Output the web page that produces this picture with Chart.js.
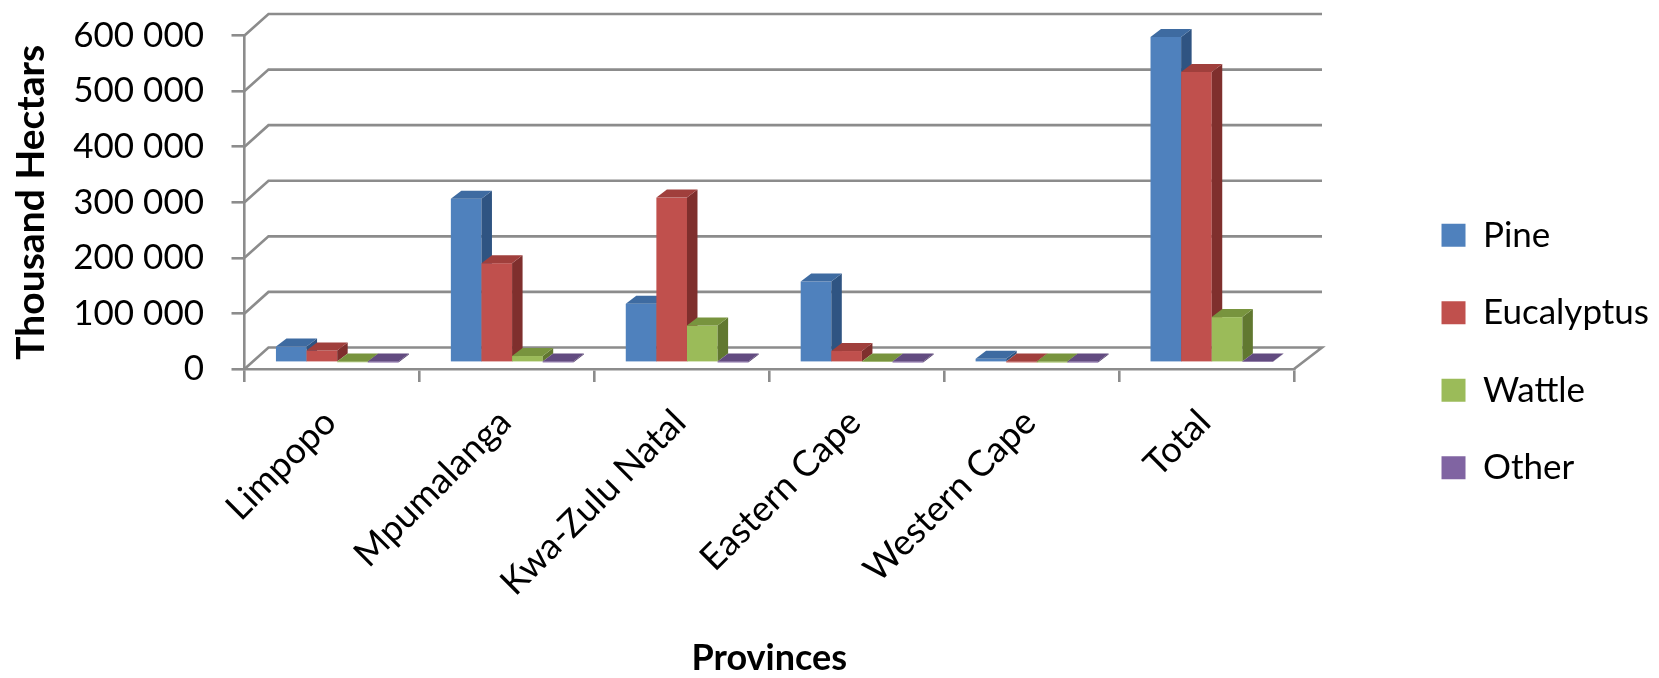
<!DOCTYPE html>
<html><head><meta charset="utf-8">
<script src="https://cdn.jsdelivr.net/npm/chart.js@4.4.1/dist/chart.umd.min.js"></script>
<style>html,body{margin:0;padding:0;background:#fff;overflow:hidden}#wrap{width:1659px;height:678px;position:relative}</style>
</head><body><div id="wrap"><canvas id="c"></canvas></div>
<script>
// ---- data ----
const categories = ['Limpopo', 'Mpumalanga', 'Kwa-Zulu Natal', 'Eastern Cape', 'Western Cape', 'Total'];
const seriesNames = ['Pine', 'Eucalyptus', 'Wattle', 'Other'];
const pine       = [29000, 295000, 106000, 146000, 7000, 586000];
const eucalyptus = [22000, 179000, 297000, 21000, 500, 523000];
const wattle     = [800, 12000, 67000, 1500, 300, 82000];
const other      = [300, 500, 400, 300, 200, 1500];
const yTickValues = [0, 100000, 200000, 300000, 400000, 500000, 600000];

// ---- styles ----
const frontColors = ['#4F81BD', '#C0504D', '#9BBB59', '#8064A2'];
const topColors   = ['#3E6BA1', '#A03F3C', '#78943E', '#624B80'];
const sideColors  = ['#2F5482', '#7F2F2D', '#617830', '#4E3A67'];
const GRID = '#8c8c8c', GW = 2.6;
const DEPTH = {dxL: 24, dxR: 28, dy: -21.5};
const BAR_OFF = {x: 5.2, y: -6.3};
const BAR_D = {x: 10.5, y: -8};
const PLOT_RIGHT = 1294;

function fmt(v) { return String(v).replace(/\B(?=(\d{3})+(?!\d))/g, ' '); }
function backPt(ca, x, y) {
  const t = (x - ca.left) / (ca.right - ca.left);
  return [x + DEPTH.dxL + t * (DEPTH.dxR - DEPTH.dxL), y + DEPTH.dy];
}

const bars3d = {
  id: 'bars3d',
  beforeDatasetsDraw(chart) {
    const {ctx, chartArea: ca, scales: {y}} = chart;
    ctx.save();
    ctx.strokeStyle = GRID; ctx.lineWidth = GW; ctx.lineJoin = 'miter';
    yTickValues.forEach(v => {
      const py = y.getPixelForValue(v);
      const [bx1, by1] = backPt(ca, ca.left, py);
      const [bx2, by2] = backPt(ca, ca.right, py);
      ctx.beginPath();
      ctx.moveTo(ca.left, py); ctx.lineTo(bx1, by1); ctx.lineTo(bx2, by2);
      if (v === 0) ctx.lineTo(ca.right, py);
      ctx.stroke();
    });
    ctx.restore();
  },
  beforeDatasetDraw() { return false; },
  afterDatasetsDraw(chart) {
    const ctx = chart.ctx;
    const metas = chart.data.datasets.map((d, i) => chart.getDatasetMeta(i));
    ctx.save();
    for (let c = 0; c < categories.length; c++) {
      metas.forEach((meta, s) => {
        const el = meta.data[c];
        const p = el.getProps(['x', 'y', 'base', 'width'], true);
        const l = p.x - p.width / 2 + BAR_OFF.x, r = l + p.width;
        const t = Math.min(p.y, p.base) + BAR_OFF.y, b = Math.max(p.y, p.base) + BAR_OFF.y;
        ctx.fillStyle = frontColors[s];
        ctx.fillRect(l, t, r - l, b - t);
        ctx.fillStyle = sideColors[s];
        ctx.beginPath();
        ctx.moveTo(r, t); ctx.lineTo(r + BAR_D.x, t + BAR_D.y);
        ctx.lineTo(r + BAR_D.x, b + BAR_D.y); ctx.lineTo(r, b); ctx.closePath(); ctx.fill();
        ctx.fillStyle = topColors[s];
        ctx.beginPath();
        ctx.moveTo(l, t); ctx.lineTo(r, t); ctx.lineTo(r + BAR_D.x, t + BAR_D.y);
        ctx.lineTo(l + BAR_D.x, t + BAR_D.y); ctx.closePath(); ctx.fill();
      });
    }
    ctx.restore();
  }
};

const seriesData = [pine, eucalyptus, wattle, other];

function build() {
  new Chart(document.getElementById('c'), {
    type: 'bar',
    data: {
      labels: categories,
      datasets: seriesNames.map((n, i) => ({
        label: n, data: seriesData[i], backgroundColor: frontColors[i], borderWidth: 0,
        categoryPercentage: 0.7, barPercentage: 1.0
      }))
    },
    options: {
      responsive: true, maintainAspectRatio: false, animation: false, devicePixelRatio: 1,
      layout: {padding: {top: 35.5, bottom: 10.5, left: 0, right: 0}},
      plugins: {
        tooltip: {enabled: false},
        legend: {
          position: 'right', align: 'center',
          labels: {boxWidth: 24, boxHeight: 23, padding: 42.5, color: '#000',
                   font: {family: 'Lato', size: 35}}
        }
      },
      scales: {
        x: {
          afterFit(s) { s.height = 298.5; },
          ticks: {font: {family: 'Lato', size: 36}, color: '#000', minRotation: 45, maxRotation: 45,
                  padding: 19, autoSkip: false, labelOffset: -2},
          grid: {display: true, drawOnChartArea: false, drawTicks: true, tickLength: 13,
                 tickColor: GRID, tickWidth: GW, color: GRID, lineWidth: GW, offset: true},
          border: {display: true, color: GRID, width: GW},
          title: {display: true, text: 'Provinces', color: '#000', padding: 0,
                  font: {family: 'Lato', size: 36, weight: 'bold', lineHeight: 0.5}}
        },
        y: {
          min: 0, max: 600000,
          afterFit(s) { s.width = 244.5; },
          afterBuildTicks(s) { s.ticks = yTickValues.map(v => ({value: v})); },
          ticks: {font: {family: 'Lato', size: 35, lineHeight: 0.45}, color: '#000', padding: 27.5,
                  callback: v => fmt(v)},
          grid: {display: true, drawOnChartArea: false, drawTicks: true, tickLength: 13,
                 tickColor: GRID, tickWidth: GW, color: GRID, lineWidth: GW},
          border: {display: true, color: GRID, width: GW},
          title: {display: true, text: 'Thousand Hectars', color: '#000', padding: {top: 8, bottom: 0},
                  font: {family: 'Lato', size: 39, weight: 'bold'}}
        },
        yR: {
          type: 'linear', position: 'right', display: true,
          afterFit(s) { s.width = Math.max(0, s.chart.width - s.chart.legend.width - PLOT_RIGHT); },
          grid: {display: false}, border: {display: false}, ticks: {display: false}
        }
      }
    },
    plugins: [bars3d]
  });
}
if (document.fonts && document.fonts.load) {
  Promise.all([document.fonts.load('35px Lato'), document.fonts.load('bold 35px Lato')]).then(build, build);
} else build();
</script>
</body></html>
